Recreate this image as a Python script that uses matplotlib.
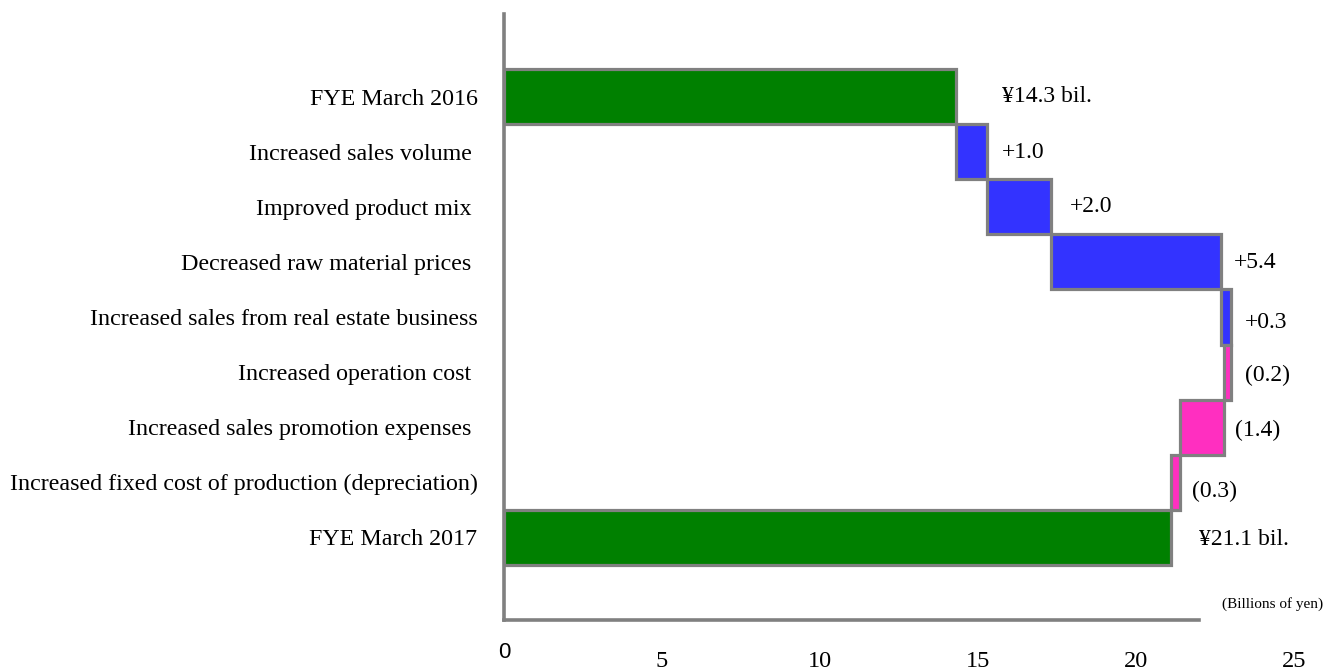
import matplotlib
matplotlib.use("Agg")
import matplotlib.pyplot as plt
import matplotlib.transforms as mtransforms

# ---- data (billions of yen) ----
categories = [
    "FYE March 2016",
    "Increased sales volume ",
    "Improved product mix ",
    "Decreased raw material prices ",
    "Increased sales from real estate business",
    "Increased operation cost ",
    "Increased sales promotion expenses ",
    "Increased fixed cost of production (depreciation)",
    "FYE March 2017",
]
start_total = 14.3
changes = [1.0, 2.0, 5.4, 0.3, -0.2, -1.4, -0.3]
end_total = 21.1
value_labels = ["¥14.3 bil.", "+1.0", "+2.0", "+5.4", "+0.3",
                "(0.2)", "(1.4)", "(0.3)", "¥21.1 bil."]
x_ticks = [0, 5, 10, 15, 20, 25]

# ---- style ----
green = "#008000"
blue = "#3333ff"
pink = "#ff2fc0"
edge = "#808080"
label_pad = [46, 14, 19, 13, 14, 14, 11, 12, 28]   # px gap after bar end
label_dy = [0, 1, 0, 1, 5, 3, 3, 9, 2]             # px shift down

plt.rcParams["font.family"] = ["Liberation Serif", "DejaVu Serif"]

# waterfall geometry
lefts, widths, colors = [0.0], [start_total], [green]
running = start_total
for c in changes:
    if c >= 0:
        lefts.append(running)
        colors.append(blue)
    else:
        lefts.append(running + c)
        colors.append(pink)
    widths.append(abs(c))
    running += c
lefts.append(0.0)
widths.append(end_total)
colors.append(green)

fig = plt.figure(figsize=(13.27, 6.71), dpi=100)
ax = fig.add_axes([504 / 1327, 51 / 671, 790 / 1327, 606 / 671])

ys = list(range(len(categories)))
ax.barh(ys, widths, left=lefts, height=1.0, color=colors,
        edgecolor=edge, linewidth=2.3, zorder=2)

for i, (l, w, txt) in enumerate(zip(lefts, widths, value_labels)):
    off = mtransforms.ScaledTranslation(label_pad[i] / 100, -label_dy[i] / 100,
                                        fig.dpi_scale_trans)
    ax.text(l + w, i, txt, ha="left", va="center", fontsize=17,
            transform=ax.transData + off, clip_on=False)

ax.set_xlim(0, 25)
ax.set_ylim(len(categories) - 0.5 + 1, -1.5)
ax.set_yticks(ys)
ax.set_yticklabels(categories, fontsize=17.3)
ax.set_xticks(x_ticks)
ax.set_xticklabels([str(t) for t in x_ticks], fontsize=17.5)
ax.tick_params(axis="both", length=0)
ax.tick_params(axis="y", pad=19)
ax.tick_params(axis="x", pad=22)

# the "0" label is set in a sans font, a bit higher
zero = ax.get_xticklabels()[0]
zero.set_fontfamily(["Liberation Sans", "DejaVu Sans"])
zero.set_fontsize(16)
zero.set_transform(zero.get_transform() +
                   mtransforms.ScaledTranslation(0, 9 / 100, fig.dpi_scale_trans))

for s in ["top", "right"]:
    ax.spines[s].set_visible(False)
for s in ["left", "bottom"]:
    ax.spines[s].set_color(edge)
    ax.spines[s].set_linewidth(2.6)
ax.spines["bottom"].set_bounds(0, 22)

fig.text(1323 / 1327, 1 - 604 / 671, "(Billions of yen)", ha="right",
         va="center", fontsize=11)

fig.savefig("out.png", dpi=100)
